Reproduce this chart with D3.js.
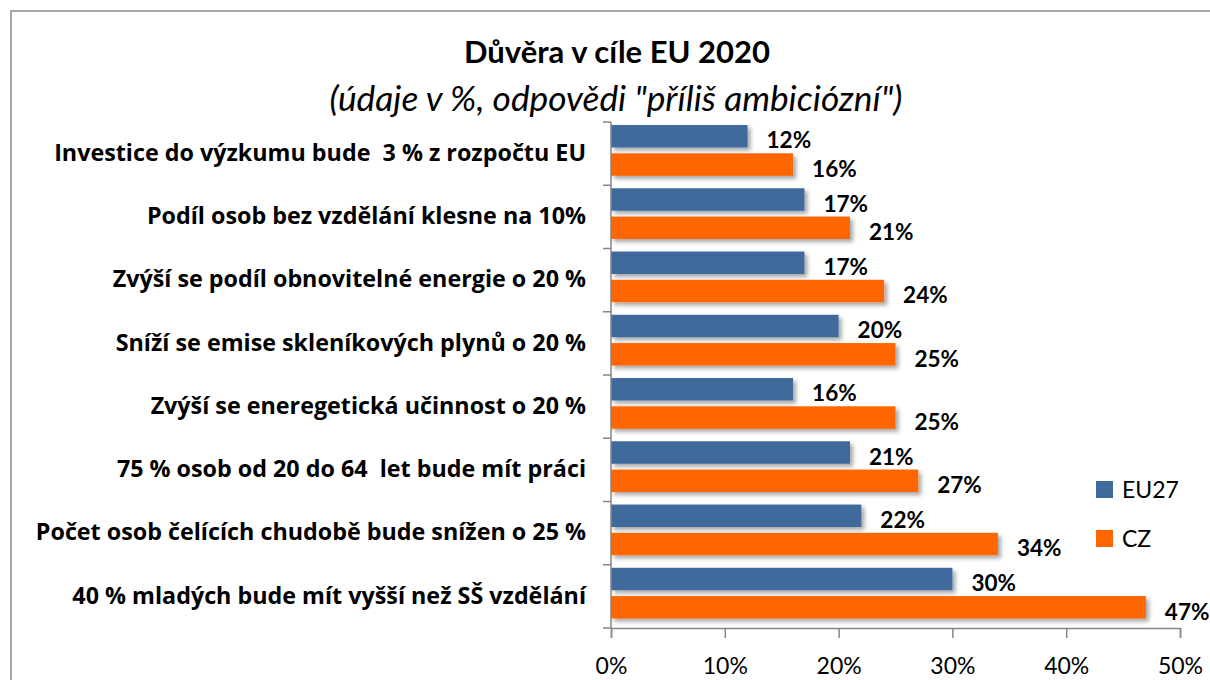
<!DOCTYPE html>
<html lang="cs">
<head>
  <meta charset="UTF-8">
  <title>Důvěra v cíle EU 2020</title>
  <script src="https://d3js.org/d3.v7.min.js"></script>
  <style>
    body { margin: 0; background: #fff; font-family: 'Lato', 'Liberation Sans', sans-serif; }
    svg text { fill: #000; }
  </style>
</head>
<body>
  <div id="chart"></div>

  <script>
    const categories = [
      "Investice do výzkumu bude  3 % z rozpočtu EU",
      "Podíl osob bez vzdělání klesne na 10%",
      "Zvýší se podíl obnovitelné energie o 20 %",
      "Sníží se emise skleníkových plynů o 20 %",
      "Zvýší se eneregetická učinnost o 20 %",
      "75 % osob od 20 do 64  let bude mít práci",
      "Počet osob čelících chudobě bude snížen o 25 %",
      "40 % mladých bude mít vyšší než SŠ vzdělání"
    ];
    const eu27 = [12, 17, 17, 20, 16, 21, 22, 30];
    const cz = [16, 21, 24, 25, 25, 27, 34, 47];
    const seriesNames = ["EU27", "CZ"];
    const xTicks = [0, 10, 20, 30, 40, 50];

    const colors = { EU27: "#3f6a9c", CZ: "#ff6600" };

    const W = 1210, H = 680;
    const plot = { left: 611, right: 1180, top: 122, bottom: 628 };

    const svg = d3.select("#chart")
      .append("svg")
      .attr("width", W)
      .attr("height", H);

    // stín pod sloupci
    const defs = svg.append("defs");
    const f = defs.append("filter").attr("id", "shadow")
      .attr("x", "-5%").attr("y", "-30%").attr("width", "115%").attr("height", "180%");
    f.append("feDropShadow")
      .attr("dx", 3).attr("dy", 3).attr("stdDeviation", 2)
      .attr("flood-color", "#000").attr("flood-opacity", 0.35);

    // rámeček (vidět je jen horní a levá hrana)
    svg.append("rect")
      .attr("x", 11).attr("y", 11)
      .attr("width", W + 20).attr("height", H + 20)
      .attr("fill", "none")
      .attr("stroke", "#a6a6a6")
      .attr("stroke-width", 2);

    svg.append("text")
      .attr("x", 617).attr("y", 63)
      .attr("text-anchor", "middle")
      .style("font-size", "31px")
      .style("font-weight", "bold")
      .text("Důvěra v cíle EU 2020");

    svg.append("text")
      .attr("x", 616).attr("y", 111)
      .attr("text-anchor", "middle")
      .style("font-size", "35.3px")
      .style("font-style", "italic")
      .text("(údaje v %, odpovědi \"příliš ambiciózní\")");

    const x = d3.scaleLinear()
      .domain([0, 50])
      .range([plot.left, plot.right]);

    const y = d3.scaleBand()
      .domain(categories)
      .range([plot.top, plot.bottom]);

    const barH = y.bandwidth() * 0.355;
    const offsets = { EU27: y.bandwidth() * 0.048, CZ: y.bandwidth() * 0.495 };

    const rows = categories.map((c, i) => ({ cat: c, EU27: eu27[i], CZ: cz[i] }));

    // sloupce
    const groups = svg.append("g")
      .selectAll("g")
      .data(rows)
      .enter()
      .append("g")
      .attr("transform", d => `translate(0,${y(d.cat)})`);

    groups.selectAll("rect")
      .data(d => seriesNames.map(k => ({ key: k, value: d[k] })))
      .enter()
      .append("rect")
      .attr("x", x(0))
      .attr("y", d => offsets[d.key])
      .attr("width", d => x(d.value) - x(0))
      .attr("height", barH)
      .attr("fill", d => colors[d.key])
      .attr("filter", "url(#shadow)");

    groups.selectAll("text.val")
      .data(d => seriesNames.map(k => ({ key: k, value: d[k] })))
      .enter()
      .append("text")
      .attr("class", "val")
      .attr("x", d => x(d.value) + 19)
      .attr("y", d => offsets[d.key] + barH + 1)
      .style("font-size", "22.5px")
      .style("font-weight", "bold")
      .text(d => d.value + "%");

    // osa x
    const xAxis = svg.append("g")
      .attr("transform", `translate(0,${plot.bottom})`)
      .call(d3.axisBottom(x).tickValues(xTicks).tickFormat(d => d + "%").tickSize(10).tickPadding(20));
    xAxis.select(".domain").attr("stroke", "#868686").attr("stroke-width", 1.5);
    xAxis.selectAll(".tick line").attr("stroke", "#868686").attr("stroke-width", 1.5);
    xAxis.selectAll(".tick text")
      .style("font-size", "23px")
      .style("font-family", "Lato, sans-serif")
      .attr("fill", "#000");

    // osa y: značky na hranicích kategorií
    const yAxis = svg.append("g");
    yAxis.append("line")
      .attr("x1", plot.left).attr("x2", plot.left)
      .attr("y1", plot.top).attr("y2", plot.bottom)
      .attr("stroke", "#868686").attr("stroke-width", 1.5);
    yAxis.selectAll("line.tk")
      .data(categories.map(c => y(c)).concat([plot.bottom]))
      .enter()
      .append("line")
      .attr("class", "tk")
      .attr("x1", plot.left - 8).attr("x2", plot.left)
      .attr("y1", d => d).attr("y2", d => d)
      .attr("stroke", "#868686").attr("stroke-width", 1.5);

    yAxis.selectAll("text")
      .data(categories)
      .enter()
      .append("text")
      .attr("x", plot.left - 25)
      .attr("y", d => y(d) + y.bandwidth() / 2 - 1)
      .attr("dy", "0.35em")
      .attr("text-anchor", "end")
      .attr("xml:space", "preserve")
      .style("font-family", "'Open Sans', sans-serif")
      .style("font-size", "23.3px")
      .style("font-weight", "bold")
      .text(d => d);

    // legenda
    const legend = svg.append("g")
      .selectAll("g")
      .data(seriesNames)
      .enter()
      .append("g")
      .attr("transform", (d, i) => `translate(1096,${481 + i * 49})`);

    legend.append("rect")
      .attr("width", 17).attr("height", 17)
      .attr("fill", d => colors[d]);

    legend.append("text")
      .attr("x", 26).attr("y", 9)
      .attr("dy", "0.35em")
      .style("font-size", "23px")
      .text(d => d);
  </script>
</body>
</html>
